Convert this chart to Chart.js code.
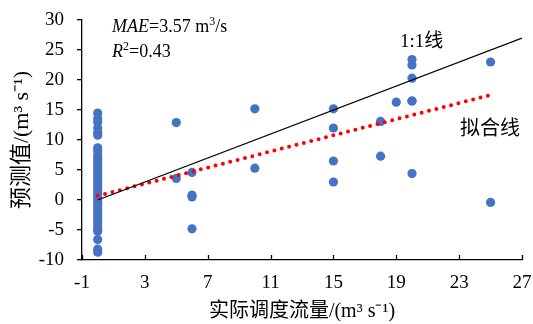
<!DOCTYPE html>
<html>
<head>
<meta charset="utf-8">
<script src="https://cdn.jsdelivr.net/npm/chart.js@4.4.0/dist/chart.umd.min.js"></script>
<style>
  html, body { margin: 0; padding: 0; background: #fff; }
  #wrap { width: 533px; height: 324px; }
</style>
</head>
<body>
<div id="wrap"><canvas id="grafica_dispersion" width="533" height="324"></canvas></div>
<script>
// datos
var obsX = [0,0,0,0,0,0,0,0,0,0,0,0,0,0,0,0,0,0,0,0,0,0,0,0,0,0,0,0,0,0,0,0,0,0,0,0,0,0,
            5,5,6,6,6,6,10,10,15,15,15,15,18,18,19,20,20,20,20,20,20,25,25];
var predY = [14.5,13.6,13,12,11.2,10.8,8.7,8.2,7.5,7,6.5,6,5.5,5,4.5,4,3.5,3,2.5,2,1.5,1,0.5,0,-0.5,-1,-1.5,-2,-2.5,-3,-3.5,-4,-4.5,-5,-5.2,-6.6,-8.2,-8.7,
             12.9,3.6,4.6,0.8,0.5,-4.8,15.2,5.3,15.2,12,6.5,3,13.1,7.3,16.3,23.4,22.5,20.3,16.5,16.5,4.4,23,-0.4];
var lineaUnoX = [0, 27];
var lineaUnoY = [0, 27];
var ajusteX = [0, 25];
var ajusteY = [0.7, 17.5];
var ticksX = [-1,3,7,11,15,19,23,27];
var ticksY = [-10,-5,0,5,10,15,20,25,30];

var fuente = "'Liberation Serif', 'Noto Sans CJK SC', serif";

function aPuntos(xs, ys){
    var arr = [];
    xs.forEach(function(v, i){ arr.push({x: v, y: ys[i]}); });
    return arr;
}

var plugAnotaciones = {
    id: 'anotaciones',
    afterDatasetsDraw: function(chart){
        var ctx = chart.ctx;
        var xs = chart.scales.x;
        ctx.save();
        // ticks del eje x hacia adentro
        ctx.strokeStyle = '#000';
        ctx.lineWidth = 1.3;
        ticksX.forEach(function(v){
            var px = Math.round(xs.getPixelForValue(v)) + 0.5;
            ctx.beginPath();
            ctx.moveTo(px, chart.chartArea.bottom);
            ctx.lineTo(px, chart.chartArea.bottom - 5);
            ctx.stroke();
        });
        ctx.fillStyle = '#000';
        ctx.textBaseline = 'middle';
        ctx.textAlign = 'left';
        // MAE
        var x = 112, y = 27;
        ctx.font = "italic 18px " + fuente;
        ctx.fillText('MAE', x, y); x += ctx.measureText('MAE').width;
        ctx.font = "18px " + fuente;
        ctx.fillText('=3.57 m', x, y); x += ctx.measureText('=3.57 m').width;
        ctx.font = "12px " + fuente;
        ctx.fillText('3', x, y - 5); x += ctx.measureText('3').width;
        ctx.font = "18px " + fuente;
        ctx.fillText('/s', x, y);
        // R2
        x = 112; y = 52;
        ctx.font = "italic 18px " + fuente;
        ctx.fillText('R', x, y); x += ctx.measureText('R').width;
        ctx.font = "12px " + fuente;
        ctx.fillText('2', x, y - 5); x += ctx.measureText('2').width;
        ctx.font = "18px " + fuente;
        ctx.fillText('=0.43', x, y);
        // etiquetas de lineas
        ctx.font = "19px " + fuente;
        ctx.fillText('1:1线', 400, 42);
        ctx.font = "20px " + fuente;
        ctx.fillText('拟合线', 460, 130);
        ctx.restore();
    }
};

var canvas = document.getElementById('grafica_dispersion');
var grafica = new Chart(canvas, {
    type: 'scatter',
    data: {
        datasets: [{
            type: 'line',
            label: '1:1',
            data: aPuntos(lineaUnoX, lineaUnoY),
            borderColor: '#000',
            borderWidth: 1.3,
            pointRadius: 0,
            fill: false
        }, {
            type: 'line',
            label: 'ajuste',
            data: aPuntos(ajusteX, ajusteY),
            borderColor: '#ff0000',
            borderWidth: 4,
            borderDash: [0, 7.6],
            borderCapStyle: 'round',
            pointRadius: 0,
            fill: false
        }, {
            label: 'datos',
            data: aPuntos(obsX, predY),
            backgroundColor: '#4472c4',
            borderWidth: 0,
            pointRadius: 4.6
        }]
    },
    options: {
        responsive: false,
        animation: false,
        layout: { padding: { top: 20, right: 11, left: 0, bottom: 0 } },
        plugins: {
            legend: { display: false },
            tooltip: { enabled: false }
        },
        scales: {
            x: {
                type: 'linear',
                min: -1, max: 27,
                afterBuildTicks: function(scale){
                    scale.ticks = ticksX.map(function(v){ return {value: v}; });
                },
                afterFit: function(scale){
                    scale.height = 64;
                    scale.paddingLeft = 0;
                    scale.paddingRight = 0;
                },
                border: { color: '#000', width: 1.3 },
                grid: { display: false, drawTicks: false },
                ticks: {
                    color: '#000',
                    padding: 12,
                    maxRotation: 0,
                    font: { family: fuente, size: 19 }
                },
                title: {
                    display: true,
                    text: '实际调度流量/(m³ s⁻¹)',
                    color: '#000',
                    padding: { top: 2, bottom: 0 },
                    font: { family: fuente, size: 20 }
                }
            },
            y: {
                type: 'linear',
                min: -10, max: 30,
                afterBuildTicks: function(scale){
                    scale.ticks = ticksY.map(function(v){ return {value: v}; });
                },
                afterFit: function(scale){
                    scale.width = 82;
                    scale.paddingTop = 0;
                    scale.paddingBottom = 0;
                },
                border: { color: '#000', width: 1.3 },
                grid: {
                    drawOnChartArea: false,
                    drawTicks: true,
                    tickLength: 5,
                    color: '#000',
                    lineWidth: 1.3
                },
                ticks: {
                    color: '#000',
                    padding: 13,
                    font: { family: fuente, size: 19 }
                },
                title: {
                    display: true,
                    text: '预测值/(m³ s⁻¹)',
                    color: '#000',
                    padding: { top: 9, bottom: 0 },
                    font: { family: fuente, size: 22 }
                }
            }
        }
    },
    plugins: [plugAnotaciones]
});
</script>
</body>
</html>
